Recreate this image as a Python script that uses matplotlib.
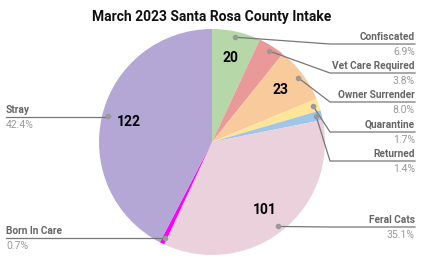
import numpy as np
import matplotlib
matplotlib.use("Agg")
import matplotlib.pyplot as plt

plt.rcParams['font.family'] = ['Roboto', 'DejaVu Sans']

# datos
categorias = ['Confiscated', 'Vet Care Required', 'Owner Surrender', 'Quarantine',
              'Returned', 'Feral Cats', 'Born In Care', 'Stray']
valores = [20, 11, 23, 5, 4, 101, 2, 122]
colores = ['#b6d7a8', '#ea9999', '#f9cb9c', '#ffe599',
           '#9fc5e8', '#ead1dc', '#ff00ff', '#b4a7d6']
titulo = 'March 2023 Santa Rosa County Intake'

# layout (pixeles): centro y radio del pie, altura de cada linea de etiqueta
W, H = 423, 261
CX, CY, R = 212, 142, 113
label_y = [44, 73, 102, 132, 161, 227, 238, 117]
lado = ['r', 'r', 'r', 'r', 'r', 'r', 'l', 'l']

fig = plt.figure(figsize=(W / 100, H / 100), dpi=100)
ax = fig.add_axes([(CX - R) / W, (H - CY - R) / H, 2 * R / W, 2 * R / H])
ax.axis('off')

total = sum(valores)
wedges, _ = ax.pie(valores, colors=colores, startangle=90, counterclock=False,
                   radius=1, center=(0, 0), wedgeprops=dict(linewidth=0))
ax.set_xlim(-1, 1)
ax.set_ylim(-1, 1)
ax.set_aspect('equal')


def px2d(x, y):
    return (x - CX) / R, (CY - y) / R


fig.text(0.5, 1 - 17 / H, titulo, ha='center', va='center', fontsize=10,
         fontweight='bold', color='#111111')

for w, cat, v, ly, s in zip(wedges, categorias, valores, label_y, lado):
    ang = np.deg2rad((w.theta1 + w.theta2) / 2)
    pct = v / total * 100
    if pct >= 5:
        ax.text(0.76 * np.cos(ang), 0.76 * np.sin(ang), str(v), ha='center', va='center',
                fontsize=10, fontweight='bold', color='#000000')
    dx, dy = 0.95 * np.cos(ang), 0.95 * np.sin(ang)
    ax.plot(dx, dy, 'o', ms=3, color='#999999', clip_on=False, zorder=5)
    _, yy = px2d(0, ly)
    if s == 'r':
        ex, _ = px2d(330, 0)
        tx, _ = px2d(415, 0)
        if dx > ex:
            xs, ys = [dx, tx], [yy, yy]
        else:
            xs, ys = [dx, ex, tx], [dy, yy, yy]
        ha = 'right'
    else:
        tx, _ = px2d(6, 0)
        xs, ys = [dx, tx], [yy, yy]
        ha = 'left'
    ax.plot(xs, ys, color='#777777', lw=0.9, clip_on=False, zorder=4)
    ax.text(tx, yy + 2 / R, cat, ha=ha, va='bottom', fontsize=7.3,
            fontweight='bold', color='#666666', clip_on=False)
    ax.text(tx, yy - 3 / R, f'{pct:.1f}%', ha=ha, va='top', fontsize=7.5,
            color='#999999', clip_on=False)

fig.savefig('out.png', dpi=100)
